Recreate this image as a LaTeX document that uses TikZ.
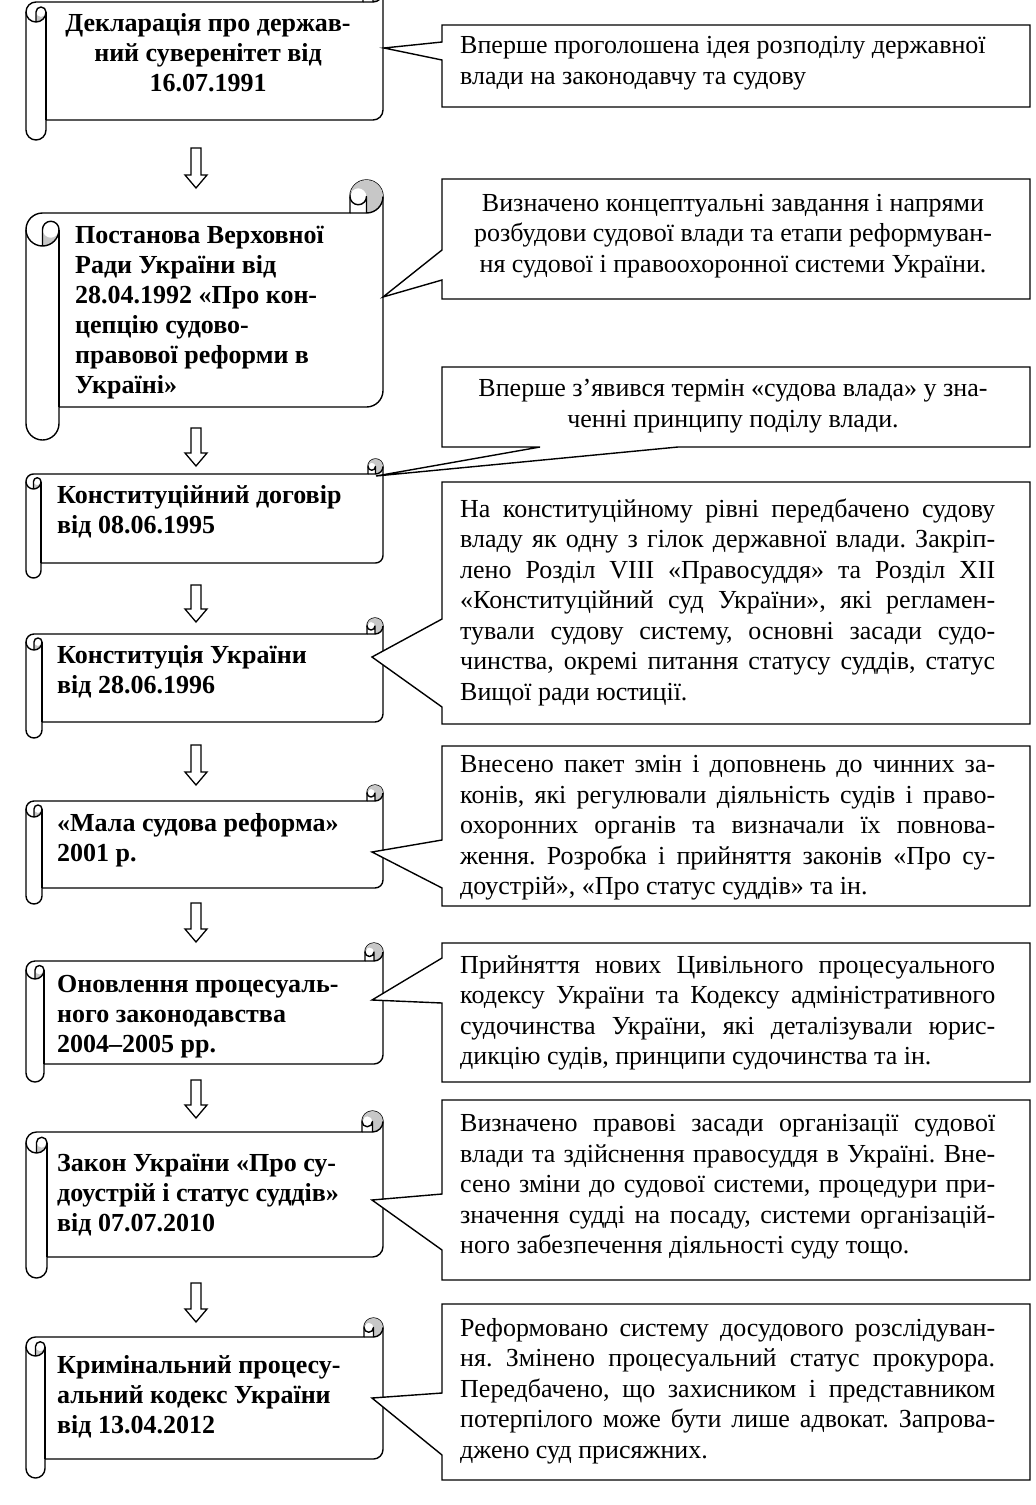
\documentclass[tikz,border=0pt]{standalone}
\usepackage{fontspec}
\setmainfont{Liberation Serif}
\usetikzlibrary{calc}
\frenchspacing
\tikzset{
  scrollline/.style={line width=1.4pt, line join=round},
  boxline/.style={line width=1.4pt, line join=miter, fill=white},
  curlfill/.style={fill=black!22},
  arrowline/.style={line width=1.3pt, fill=white, line join=miter},
  stext/.style={font=\bfseries\fontsize{26}{30}\selectfont, inner sep=0pt, align=left},
  btext/.style={font=\fontsize{26}{30.5}\selectfont, inner sep=0pt},
  jtext/.style={btext, text width=535pt, align=justify},
}
% scroll: left, top, right, bottom (pixels, y downwards), roll size
\newcommand{\scrollshape}[5]{%
 \pgfmathsetmacro{\sL}{#1}%
 \pgfmathsetmacro{\sT}{-(#2)}%
 \pgfmathsetmacro{\sR}{#3}%
 \pgfmathsetmacro{\sB}{-(#4)}%
 \pgfmathsetmacro{\sc}{#5}%
 \pgfmathsetmacro{\sh}{#5/2}%
 \pgfmathsetmacro{\sq}{#5/4}%
 \filldraw[scrollline, fill=white] (\sL, \sT-\sc-\sh) arc[start angle=180, end angle=90, radius=\sh]
   -- (\sR-\sc, \sT-\sc) -- (\sR-\sc, \sT-\sh) arc[start angle=180, end angle=0, radius=\sh]
   -- (\sR, \sB+\sc+\sh) arc[start angle=0, end angle=-90, radius=\sh]
   -- (\sL+\sc, \sB+\sc) -- (\sL+\sc, \sB+\sh) arc[start angle=0, end angle=-180, radius=\sh] -- cycle;
 \fill[curlfill] (\sR-\sh, \sT-\sc) arc[start angle=-90, end angle=180, radius=\sh]
   arc[start angle=180, end angle=0, radius=\sq] -- cycle;
 \fill[curlfill] (\sL+\sh, \sT-2*\sc) arc[start angle=-90, end angle=0, radius=\sh]
   arc[start angle=0, end angle=-180, radius=\sq] -- cycle;
 \draw[scrollline] (\sR-\sc, \sT-\sc) -- (\sR-\sh, \sT-\sc) arc[start angle=-90, end angle=0, radius=\sh];
 \draw[scrollline] (\sR-\sh, \sT-\sc) -- (\sR-\sh, \sT-\sh) arc[start angle=0, end angle=-180, radius=\sq];
 \draw[scrollline] (\sL+\sh, \sT-2*\sc) -- (\sL+\sh, \sT-\sc-\sh) arc[start angle=180, end angle=0, radius=\sq]
   arc[start angle=0, end angle=-180, radius=\sh];
 \draw[scrollline] (\sL+\sc, \sT-\sc-\sh) -- (\sL+\sc, \sB+\sc);
}
% hollow down arrow between two named coordinates
\newcommand{\hollowdown}[2]{%
 \draw[arrowline] ($(#1)+(-5,0)$) -- ($(#2)+(-5,13)$) -- ($(#2)+(-11,13)$) -- (#2)
   -- ($(#2)+(11,13)$) -- ($(#2)+(5,13)$) -- ($(#1)+(5,0)$) -- cycle;
}
\begin{document}
\begin{tikzpicture}[x=1pt, y=1pt]
\useasboundingbox (0,0) rectangle (1036,-1505);
\fill[white] (0,0) rectangle (1036,-1505);

% ---------- scrolls ----------
\scrollshape{26}{-18}{383}{140}{20}
\scrollshape{26}{180}{383}{440}{33}
\scrollshape{26}{459}{383}{578}{15}
\scrollshape{26}{618}{383}{738}{16}
\scrollshape{26}{785}{383}{904}{16}
\scrollshape{26}{943}{383}{1082}{18}
\scrollshape{26}{1111}{383}{1278}{21}
\scrollshape{26}{1318}{383}{1478}{19}

% ---------- callout boxes ----------
\draw[boxline] (442,-25) -- (1030,-25) -- (1030,-107) -- (442,-107) -- (442,-60) -- (384,-48) -- (442,-42) -- cycle;
\draw[boxline] (442,-179) -- (1030,-179) -- (1030,-299) -- (442,-299) -- (442,-280) -- (383,-297) -- (442,-250) -- cycle;
\draw[boxline] (442,-367) -- (1030,-367) -- (1030,-447) -- (678,-447) -- (376,-476) -- (540,-447) -- (442,-447) -- cycle;
\draw[boxline] (442,-482) -- (1030,-482) -- (1030,-724) -- (442,-724) -- (442,-707) -- (372,-657) -- (442,-619) -- cycle;
\draw[boxline] (442,-746) -- (1030,-746) -- (1030,-906) -- (442,-906) -- (442,-888) -- (372,-852) -- (442,-840) -- cycle;
\draw[boxline] (442,-943) -- (1030,-943) -- (1030,-1082) -- (442,-1082) -- (442,-1003) -- (372,-1000) -- (442,-958) -- cycle;
\draw[boxline] (442,-1100) -- (1030,-1100) -- (1030,-1280) -- (442,-1280) -- (442,-1250) -- (372,-1200) -- (442,-1194) -- cycle;
\draw[boxline] (442,-1304) -- (1030,-1304) -- (1030,-1480) -- (442,-1480) -- (442,-1455) -- (372,-1398) -- (442,-1393) -- cycle;

% ---------- scroll texts ----------
\node[stext, align=center] (s1) at (208,-53) {Декларація про держав-\\ний суверенітет від\\16.07.1991};
\node[stext, anchor=west] (s2) at (75,-313) {Постанова Верховної\\Ради України від\\28.04.1992 «Про кон-\\цепцію судово-\\правової реформи в\\Україні»};
\node[stext, anchor=west] (s3) at (57,-512) {Конституційний договір\\від 08.06.1995};
\node[stext, anchor=west] (s4) at (57,-672) {Конституція України\\від 28.06.1996};
\node[stext, anchor=west] (s5) at (57,-840) {«Мала судова реформа»\\2001 р.};
\node[stext, anchor=west] (s6) at (57,-1017) {Оновлення процесуаль-\\ного законодавства\\2004–2005 рр.};
\node[stext, anchor=west] (s7) at (57,-1195) {Закон України «Про су-\\доустрій і статус суддів»\\від 07.07.2010};
\node[stext, anchor=west] (s8) at (57,-1397) {Кримінальний процесу-\\альний кодекс України\\від 13.04.2012};

% ---------- box texts ----------
\node[btext, anchor=west, align=left] (t1) at (460,-63) {Вперше проголошена ідея розподілу державної\\влади на законодавчу та судову};
\node[btext, align=center] (t2) at (733,-236) {Визначено концептуальні завдання і напрями\\розбудови судової влади та етапи реформуван-\\ня судової і правоохоронної системи України.};
\node[btext, align=center] (t3) at (733,-406) {Вперше з’явився термін «судова влада» у зна-\\ченні принципу поділу влади.};
\node[jtext, anchor=west] (t4) at (460,-602) {\tolerance=10000 На конституційному рівні передбачено судову\linebreak владу як одну з гілок державної влади. Закріп-\linebreak лено Розділ VIII «Правосуддя» та Розділ XII\linebreak «Конституційний суд України», які регламен-\linebreak тували судову систему, основні засади судо-\linebreak чинства, окремі питання статусу суддів, статус\linebreak Вищої ради юстиції.};
\node[jtext, anchor=west] (t5) at (460,-828) {\tolerance=10000 Внесено пакет змін і доповнень до чинних за-\linebreak конів, які регулювали діяльність судів і право-\linebreak охоронних органів та визначали їх повнова-\linebreak ження. Розробка і прийняття законів «Про су-\linebreak доустрій», «Про статус суддів» та ін.};
\node[jtext, anchor=west] (t6) at (460,-1013) {\tolerance=10000 Прийняття нових Цивільного процесуального\linebreak кодексу України та Кодексу адміністративного\linebreak судочинства України, які деталізували юрис-\linebreak дикцію судів, принципи судочинства та ін.};
\node[jtext, anchor=west] (t7) at (460,-1187) {\tolerance=10000 Визначено правові засади організації судової\linebreak влади та здійснення правосуддя в Україні. Вне-\linebreak сено зміни до судової системи, процедури при-\linebreak значення судді на посаду, системи організацій-\linebreak ного забезпечення діяльності суду тощо.};
\node[jtext, anchor=west] (t8) at (460,-1391) {\tolerance=10000 Реформовано систему досудового розслідуван-\linebreak ня. Змінено процесуальний статус прокурора.\linebreak Передбачено, що захисником і представником\linebreak потерпілого може бути лише адвокат. Запрова-\linebreak джено суд присяжних.};

% ---------- arrows ----------
\coordinate (a1s) at (196,-148); \coordinate (a1e) at (196,-188);
\coordinate (a2s) at (196,-428); \coordinate (a2e) at (196,-466);
\coordinate (a3s) at (196,-585); \coordinate (a3e) at (196,-622);
\coordinate (a4s) at (196,-745); \coordinate (a4e) at (196,-785);
\coordinate (a5s) at (196,-903); \coordinate (a5e) at (196,-942);
\coordinate (a6s) at (196,-1080); \coordinate (a6e) at (196,-1118);
\coordinate (a7s) at (196,-1283); \coordinate (a7e) at (196,-1322);
\hollowdown{a1s}{a1e}
\hollowdown{a2s}{a2e}
\hollowdown{a3s}{a3e}
\hollowdown{a4s}{a4e}
\hollowdown{a5s}{a5e}
\hollowdown{a6s}{a6e}
\hollowdown{a7s}{a7e}
\end{tikzpicture}
\end{document}
